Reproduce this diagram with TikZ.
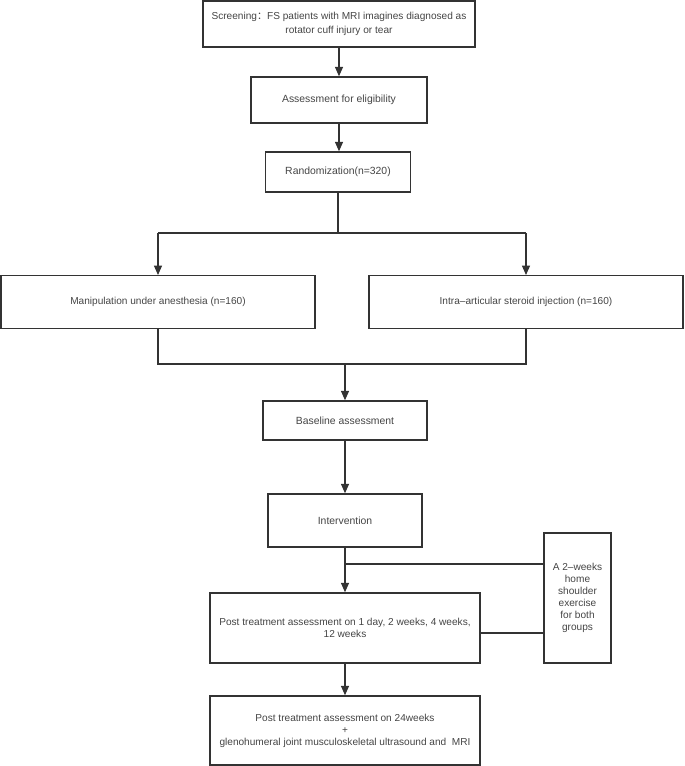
\documentclass[tikz,border=0pt]{standalone}
\usepackage{fontspec}
\setmainfont{Liberation Sans}
\newfontfamily\cjk{Noto Sans CJK SC}
\usetikzlibrary{arrows.meta}
\definecolor{ln}{HTML}{333333}
\definecolor{tx}{HTML}{444444}
\begin{document}
\begin{tikzpicture}[x=1pt,y=-1pt,
  box/.style={draw=ln,line width=1.4pt,inner sep=0pt,align=center,text=tx,font=\fontsize{10.1}{12}\selectfont},
  conn/.style={draw=ln,line width=1.4pt},
  arr/.style={conn,-{Triangle[length=9.5pt,width=8pt]}}]
\useasboundingbox (0,0) rectangle (685,766);
\node[box,minimum width=272pt,minimum height=46pt,font=\fontsize{10.1}{14.5}\selectfont] (screen) at (339,24) {Screening{\cjk ：}FS patients with MRI imagines diagnosed as\\rotator cuff injury or tear};
\node[box,minimum width=176pt,minimum height=46pt,font=\fontsize{10.4}{12}\selectfont] (elig) at (339,100) {Assessment for eligibility};
\node[box,minimum width=145pt,minimum height=40pt,font=\fontsize{10.4}{12}\selectfont] (rand) at (338,172) {Randomization(n=320)};
\node[box,minimum width=314pt,minimum height=52.5pt] (mua) at (158,302) {Manipulation under anesthesia (n=160)};
\node[box,minimum width=314pt,minimum height=52.5pt] (inj) at (526,302) {Intra–articular steroid injection (n=160)};
\node[box,minimum width=164pt,minimum height=39pt,font=\fontsize{10.4}{12}\selectfont] (base) at (345,420.5) {Baseline assessment};
\node[box,minimum width=154pt,minimum height=53pt,font=\fontsize{10.4}{12}\selectfont] (interv) at (345,520.5) {Intervention};
\node[box,minimum width=270pt,minimum height=70pt] (post) at (345,628) {Post treatment assessment on 1 day, 2 weeks, 4 weeks,\\12 weeks};
\node[box,minimum width=67pt,minimum height=130pt] (side) at (577.5,598) {A 2–weeks\\home\\shoulder\\exercise\\for both\\groups};
\node[box,minimum width=270pt,minimum height=69pt] (final) at (345,730.5) {Post treatment assessment on 24weeks\\+\\glenohumeral joint musculoskeletal ultrasound and\ \ MRI};
\coordinate (split) at (338,233);
\coordinate (splitL) at (158,233);
\coordinate (splitR) at (526,233);
\coordinate (mergeL) at (158,364);
\coordinate (mergeR) at (526,364);
\coordinate (merge) at (345,364);
\coordinate (joinA) at (345,564);
\coordinate (sideA) at (544,564);
\coordinate (sideB) at (544,633);
\coordinate (postB) at (480,633);
\draw[arr] (screen.south -| elig.north) -- (elig.north);
\draw[arr] (elig.south) -- (elig.south |- rand.north);
\draw[conn] (rand.south) -- (split);
\draw[conn] (splitL) -- (splitR);
\draw[arr] (splitL) -- (mua.north);
\draw[arr] (splitR) -- (inj.north);
\draw[conn] (mua.south) -- (mergeL) -- (mergeR) -- (inj.south);
\draw[arr] (merge) -- (base.north);
\draw[arr] (base.south) -- (interv.north);
\draw[arr] (interv.south) -- (post.north);
\draw[conn] (sideA) -- (joinA);
\draw[conn] (sideB) -- (postB);
\draw[arr] (post.south) -- (final.north);
\end{tikzpicture}
\end{document}
